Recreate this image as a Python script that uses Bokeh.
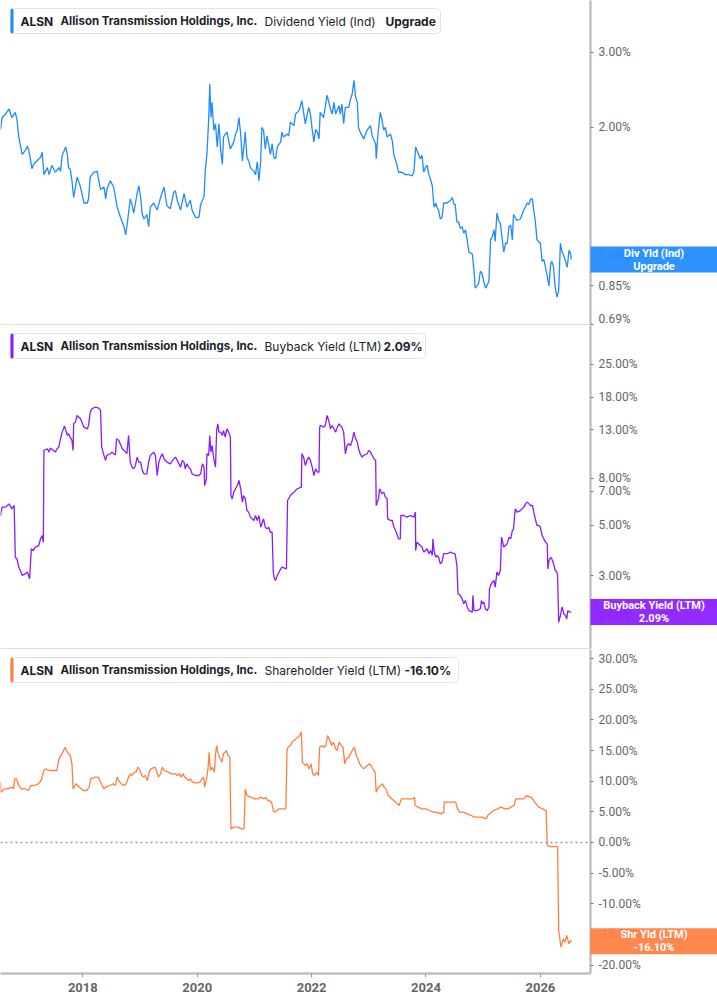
import math
from bokeh.plotting import figure
from bokeh.models import (Range1d, FixedTicker, PrintfTickFormatter, BoxAnnotation, Label,
                          Span, GridBox)
from bokeh.embed import file_html
from bokeh.resources import INLINE

TICKER = "ALSN"
COMPANY = "Allison Transmission Holdings, Inc."

# ---------------- data (decimal years, percent values) ----------------
div_dates = [
    2016.56, 2016.59, 2016.65, 2016.71, 2016.76, 2016.82, 2016.85, 2016.88, 2016.94, 2017.00,
    2017.03, 2017.06, 2017.08, 2017.11, 2017.14, 2017.20, 2017.26, 2017.29, 2017.32, 2017.38,
    2017.41, 2017.46, 2017.52, 2017.58, 2017.61, 2017.64, 2017.70, 2017.73, 2017.75, 2017.78,
    2017.81, 2017.84, 2017.90, 2017.96, 2018.02, 2018.08, 2018.10, 2018.13, 2018.19, 2018.25,
    2018.28, 2018.31, 2018.37, 2018.40, 2018.42, 2018.48, 2018.54, 2018.60, 2018.66, 2018.72,
    2018.75, 2018.77, 2018.83, 2018.86, 2018.89, 2018.95, 2018.98, 2019.01, 2019.04, 2019.07,
    2019.12, 2019.15, 2019.18, 2019.24, 2019.30, 2019.36, 2019.42, 2019.47, 2019.53, 2019.59,
    2019.62, 2019.65, 2019.71, 2019.77, 2019.82, 2019.88, 2019.91, 2019.97, 2020.03, 2020.06,
    2020.12, 2020.14, 2020.17, 2020.20, 2020.22, 2020.24, 2020.26, 2020.29, 2020.32, 2020.35,
    2020.38, 2020.41, 2020.44, 2020.46, 2020.52, 2020.58, 2020.64, 2020.67, 2020.70, 2020.73,
    2020.76, 2020.79, 2020.81, 2020.84, 2020.87, 2020.90, 2020.93, 2020.99, 2021.02, 2021.05,
    2021.08, 2021.11, 2021.13, 2021.16, 2021.19, 2021.22, 2021.28, 2021.31, 2021.34, 2021.37,
    2021.40, 2021.46, 2021.48, 2021.51, 2021.57, 2021.60, 2021.63, 2021.69, 2021.72, 2021.78,
    2021.83, 2021.86, 2021.89, 2021.95, 2021.98, 2022.01, 2022.04, 2022.07, 2022.10, 2022.13,
    2022.15, 2022.21, 2022.27, 2022.33, 2022.36, 2022.39, 2022.42, 2022.48, 2022.50, 2022.53,
    2022.56, 2022.59, 2022.65, 2022.68, 2022.71, 2022.74, 2022.77, 2022.80, 2022.82, 2022.85,
    2022.91, 2022.97, 2023.03, 2023.06, 2023.12, 2023.13, 2023.16, 2023.20, 2023.23, 2023.26,
    2023.29, 2023.32, 2023.38, 2023.41, 2023.44, 2023.49, 2023.52, 2023.58, 2023.64, 2023.70,
    2023.76, 2023.79, 2023.82, 2023.84, 2023.90, 2023.93, 2023.96, 2023.99, 2024.02, 2024.05,
    2024.08, 2024.11, 2024.14, 2024.17, 2024.19, 2024.22, 2024.25, 2024.28, 2024.31, 2024.37,
    2024.43, 2024.46, 2024.49, 2024.51, 2024.54, 2024.57, 2024.60, 2024.63, 2024.66, 2024.69,
    2024.72, 2024.75, 2024.81, 2024.84, 2024.86, 2024.89, 2024.92, 2024.95, 2024.98, 2025.01,
    2025.04, 2025.10, 2025.13, 2025.16, 2025.19, 2025.21, 2025.24, 2025.27, 2025.30, 2025.33,
    2025.36, 2025.39, 2025.42, 2025.45, 2025.48, 2025.51, 2025.53, 2025.59, 2025.65, 2025.71,
    2025.77, 2025.80, 2025.83, 2025.86, 2025.88, 2025.91, 2025.94, 2026.00, 2026.03, 2026.06,
    2026.09, 2026.15, 2026.18, 2026.20, 2026.23, 2026.26, 2026.29, 2026.32, 2026.35, 2026.38,
    2026.41, 2026.44, 2026.47, 2026.50, 2026.53, 2026.54,
]
div_yield = [
    1.98, 2.11, 2.15, 2.21, 2.11, 2.17, 2.08, 1.90, 1.73, 1.77,
    1.81, 1.75, 1.70, 1.60, 1.64, 1.67, 1.70, 1.75, 1.55, 1.61,
    1.55, 1.63, 1.57, 1.61, 1.58, 1.72, 1.80, 1.73, 1.61, 1.60,
    1.50, 1.37, 1.53, 1.45, 1.33, 1.33, 1.36, 1.53, 1.57, 1.58,
    1.50, 1.43, 1.45, 1.36, 1.43, 1.50, 1.45, 1.30, 1.23, 1.17,
    1.12, 1.17, 1.36, 1.32, 1.26, 1.40, 1.46, 1.37, 1.25, 1.22,
    1.25, 1.17, 1.30, 1.33, 1.28, 1.37, 1.45, 1.31, 1.29, 1.41,
    1.42, 1.35, 1.28, 1.40, 1.30, 1.35, 1.28, 1.23, 1.23, 1.32,
    1.38, 1.58, 1.73, 2.08, 2.53, 2.11, 2.29, 1.97, 2.04, 1.80,
    2.04, 1.77, 1.64, 1.90, 1.95, 1.78, 1.85, 1.93, 1.97, 2.11,
    1.93, 1.67, 1.77, 1.95, 1.70, 1.67, 1.61, 1.58, 1.55, 1.66,
    1.50, 1.67, 2.00, 1.97, 1.78, 1.91, 1.73, 1.83, 1.70, 1.69,
    1.80, 1.85, 1.95, 1.90, 1.93, 1.91, 2.06, 2.02, 2.15, 2.19,
    2.31, 2.17, 2.04, 2.23, 2.15, 1.98, 1.85, 1.98, 1.95, 1.88,
    2.17, 2.11, 2.38, 2.21, 2.15, 2.29, 2.15, 2.25, 2.15, 2.27,
    2.04, 2.23, 2.23, 2.33, 2.40, 2.58, 2.35, 2.29, 2.00, 1.95,
    1.88, 1.97, 2.02, 1.91, 1.83, 1.69, 1.93, 2.17, 2.09, 1.97,
    2.00, 1.90, 1.93, 1.86, 1.72, 1.64, 1.57, 1.57, 1.55, 1.55,
    1.54, 1.58, 1.80, 1.77, 1.69, 1.72, 1.57, 1.61, 1.63, 1.55,
    1.51, 1.46, 1.30, 1.33, 1.30, 1.28, 1.22, 1.23, 1.33, 1.33,
    1.35, 1.37, 1.32, 1.32, 1.20, 1.20, 1.16, 1.17, 1.13, 1.15,
    1.09, 1.02, 1.01, 0.92, 0.84, 0.85, 0.86, 0.92, 0.91, 0.87,
    0.84, 0.87, 1.09, 1.11, 1.15, 1.08, 1.26, 1.21, 1.19, 1.10,
    1.02, 1.07, 1.07, 1.17, 1.18, 1.09, 1.25, 1.21, 1.22, 1.28,
    1.33, 1.32, 1.36, 1.36, 1.29, 1.21, 1.09, 1.07, 0.97, 0.98,
    0.94, 0.85, 0.96, 0.97, 0.94, 0.84, 0.80, 0.83, 1.07, 1.02,
    1.00, 0.97, 0.94, 1.03, 1.01, 0.98,
]

bb_dates = [
    2016.56, 2016.59, 2016.65, 2016.71, 2016.76, 2016.80, 2016.82, 2016.85, 2016.88, 2016.94,
    2017.00, 2017.03, 2017.07, 2017.10, 2017.13, 2017.17, 2017.23, 2017.26, 2017.29, 2017.31,
    2017.32, 2017.38, 2017.41, 2017.43, 2017.49, 2017.52, 2017.55, 2017.58, 2017.61, 2017.64,
    2017.68, 2017.73, 2017.75, 2017.78, 2017.81, 2017.83, 2017.84, 2017.87, 2017.90, 2017.96,
    2018.02, 2018.08, 2018.10, 2018.13, 2018.16, 2018.22, 2018.28, 2018.31, 2018.33, 2018.37,
    2018.40, 2018.42, 2018.48, 2018.51, 2018.54, 2018.57, 2018.59, 2018.63, 2018.69, 2018.75,
    2018.77, 2018.80, 2018.83, 2018.86, 2018.89, 2018.92, 2018.95, 2018.98, 2019.01, 2019.04,
    2019.07, 2019.12, 2019.15, 2019.18, 2019.24, 2019.27, 2019.30, 2019.33, 2019.36, 2019.39,
    2019.42, 2019.47, 2019.53, 2019.59, 2019.62, 2019.65, 2019.71, 2019.74, 2019.77, 2019.79,
    2019.82, 2019.85, 2019.88, 2019.91, 2019.97, 2020.03, 2020.06, 2020.09, 2020.12, 2020.13,
    2020.16, 2020.17, 2020.20, 2020.22, 2020.24, 2020.26, 2020.29, 2020.32, 2020.34, 2020.36,
    2020.38, 2020.41, 2020.44, 2020.46, 2020.49, 2020.52, 2020.55, 2020.58, 2020.59, 2020.61,
    2020.64, 2020.67, 2020.70, 2020.73, 2020.76, 2020.79, 2020.81, 2020.84, 2020.87, 2020.90,
    2020.93, 2020.99, 2021.02, 2021.05, 2021.08, 2021.11, 2021.16, 2021.19, 2021.22, 2021.25,
    2021.28, 2021.31, 2021.33, 2021.35, 2021.37, 2021.40, 2021.46, 2021.48, 2021.56, 2021.58,
    2021.63, 2021.69, 2021.75, 2021.82, 2021.83, 2021.86, 2021.89, 2021.92, 2021.95, 2021.98,
    2022.01, 2022.04, 2022.07, 2022.10, 2022.13, 2022.14, 2022.15, 2022.21, 2022.24, 2022.27,
    2022.30, 2022.33, 2022.36, 2022.39, 2022.42, 2022.45, 2022.48, 2022.50, 2022.53, 2022.56,
    2022.59, 2022.62, 2022.65, 2022.68, 2022.71, 2022.74, 2022.77, 2022.80, 2022.82, 2022.85,
    2022.88, 2022.91, 2022.97, 2023.00, 2023.03, 2023.06, 2023.09, 2023.12, 2023.13, 2023.15,
    2023.17, 2023.19, 2023.23, 2023.26, 2023.29, 2023.32, 2023.33, 2023.38, 2023.41, 2023.44,
    2023.47, 2023.52, 2023.55, 2023.56, 2023.61, 2023.67, 2023.73, 2023.79, 2023.815, 2023.82,
    2023.84, 2023.90, 2023.93, 2023.96, 2023.99, 2024.02, 2024.05, 2024.08, 2024.11, 2024.12,
    2024.14, 2024.17, 2024.19, 2024.22, 2024.25, 2024.28, 2024.31, 2024.37, 2024.43, 2024.49,
    2024.51, 2024.54, 2024.56, 2024.60, 2024.63, 2024.66, 2024.69, 2024.72, 2024.75, 2024.81,
    2024.82, 2024.84, 2024.89, 2024.95, 2024.97, 2024.99, 2025.01, 2025.04, 2025.07, 2025.10,
    2025.11, 2025.13, 2025.16, 2025.19, 2025.21, 2025.24, 2025.27, 2025.30, 2025.32, 2025.36,
    2025.42, 2025.45, 2025.48, 2025.51, 2025.53, 2025.56, 2025.59, 2025.65, 2025.71, 2025.74,
    2025.77, 2025.83, 2025.86, 2025.88, 2025.91, 2025.94, 2025.97, 2026.00, 2026.03, 2026.06,
    2026.09, 2026.12, 2026.13, 2026.15, 2026.18, 2026.20, 2026.23, 2026.26, 2026.29, 2026.30,
    2026.32, 2026.35, 2026.38, 2026.41, 2026.44, 2026.46, 2026.48, 2026.51, 2026.54,
]
bb_yield = [
    5.50, 5.98, 5.98, 6.18, 5.88, 6.08, 3.62, 3.56, 3.28, 3.02,
    3.07, 3.12, 2.92, 3.94, 3.87, 4.01, 4.07, 4.35, 4.50, 4.21,
    10.55, 10.73, 10.38, 10.80, 10.55, 10.38, 10.73, 10.91, 11.86, 12.68,
    13.47, 12.26, 12.47, 12.06, 11.66, 10.55, 13.78, 14.02, 14.98, 14.49,
    13.33, 13.11, 13.56, 15.49, 16.02, 16.29, 16.13, 15.76, 10.91, 10.04,
    9.55, 10.04, 10.21, 10.38, 10.21, 10.10, 11.86, 11.66, 10.73, 10.38,
    10.21, 12.26, 9.39, 8.93, 8.78, 9.08, 9.87, 9.39, 9.39, 8.64,
    8.35, 8.35, 9.39, 10.04, 10.38, 10.04, 8.21, 9.39, 9.87, 10.21,
    9.71, 9.39, 9.23, 9.71, 9.87, 9.55, 8.93, 9.55, 9.39, 8.78,
    9.23, 8.93, 8.78, 8.35, 8.21, 8.21, 8.35, 9.23, 8.93, 7.43,
    7.94, 10.21, 10.04, 12.26, 10.38, 11.09, 9.71, 8.93, 12.89, 13.78,
    12.68, 12.68, 12.26, 12.89, 12.06, 13.11, 12.68, 12.06, 6.72, 6.50,
    6.95, 7.19, 7.43, 7.81, 7.19, 6.29, 6.72, 6.50, 5.78, 5.69,
    5.41, 5.23, 5.50, 5.23, 5.50, 4.89, 5.32, 4.89, 4.81, 4.89,
    4.65, 4.65, 3.12, 2.92, 2.87, 3.02, 3.22, 3.28, 3.22, 6.39,
    6.72, 6.95, 7.19, 7.31, 10.21, 9.87, 9.08, 9.55, 9.87, 9.55,
    8.93, 8.21, 8.78, 8.49, 8.49, 13.11, 13.56, 13.33, 13.56, 14.98,
    14.25, 13.11, 13.56, 13.11, 12.68, 13.33, 13.78, 13.56, 13.33, 12.68,
    10.21, 11.09, 11.28, 11.09, 11.66, 12.68, 11.86, 11.47, 10.73, 10.21,
    9.87, 10.04, 10.21, 10.55, 10.38, 10.04, 9.71, 9.55, 6.08, 6.29,
    6.50, 7.19, 6.84, 6.95, 6.61, 6.50, 5.32, 5.23, 5.23, 4.89,
    4.73, 4.35, 4.35, 5.50, 5.50, 5.41, 5.50, 5.41, 5.69, 3.87,
    4.21, 4.07, 4.01, 3.81, 3.87, 3.94, 3.75, 3.87, 3.69, 4.35,
    3.87, 3.62, 3.69, 3.62, 3.39, 3.45, 3.75, 3.75, 3.81, 3.75,
    3.75, 3.33, 2.51, 2.47, 2.39, 2.27, 2.35, 2.20, 2.12, 2.09,
    2.47, 2.12, 2.12, 2.16, 2.35, 2.27, 2.31, 2.16, 2.12, 2.20,
    2.64, 2.73, 2.82, 2.87, 2.68, 3.12, 3.02, 3.17, 4.43, 4.01,
    4.14, 4.43, 4.35, 4.73, 4.81, 5.88, 5.69, 5.78, 5.98, 6.18,
    6.29, 6.08, 6.08, 5.78, 5.32, 4.98, 4.98, 4.89, 4.50, 4.35,
    4.21, 4.14, 3.22, 3.50, 3.62, 3.56, 3.39, 3.17, 3.12, 3.02,
    1.89, 2.02, 2.20, 2.05, 2.02, 1.95, 2.12, 2.09, 2.09,
]

sh_dates = [
    2016.56, 2016.57, 2016.63, 2016.69, 2016.76, 2016.79, 2016.81, 2016.84, 2016.88, 2016.92,
    2016.99, 2017.05, 2017.09, 2017.15, 2017.22, 2017.25, 2017.28, 2017.32, 2017.35, 2017.42,
    2017.48, 2017.55, 2017.58, 2017.65, 2017.69, 2017.73, 2017.78, 2017.81, 2017.83, 2017.88,
    2017.94, 2018.01, 2018.07, 2018.11, 2018.14, 2018.21, 2018.27, 2018.30, 2018.34, 2018.37,
    2018.40, 2018.47, 2018.53, 2018.57, 2018.60, 2018.63, 2018.67, 2018.73, 2018.76, 2018.80,
    2018.83, 2018.86, 2018.90, 2018.93, 2018.96, 2018.99, 2019.03, 2019.06, 2019.09, 2019.13,
    2019.16, 2019.19, 2019.26, 2019.29, 2019.32, 2019.36, 2019.39, 2019.42, 2019.49, 2019.55,
    2019.62, 2019.65, 2019.69, 2019.72, 2019.75, 2019.78, 2019.82, 2019.85, 2019.88, 2019.92,
    2019.98, 2020.05, 2020.08, 2020.11, 2020.13, 2020.17, 2020.19, 2020.21, 2020.23, 2020.26,
    2020.30, 2020.32, 2020.34, 2020.36, 2020.39, 2020.43, 2020.46, 2020.49, 2020.51, 2020.54,
    2020.57, 2020.59, 2020.64, 2020.71, 2020.77, 2020.82, 2020.84, 2020.87, 2020.94, 2021.00,
    2021.07, 2021.10, 2021.17, 2021.20, 2021.23, 2021.26, 2021.30, 2021.33, 2021.36, 2021.43,
    2021.50, 2021.55, 2021.57, 2021.59, 2021.63, 2021.66, 2021.69, 2021.73, 2021.76, 2021.79,
    2021.82, 2021.84, 2021.89, 2021.92, 2021.96, 2021.99, 2022.02, 2022.05, 2022.09, 2022.12,
    2022.14, 2022.19, 2022.22, 2022.25, 2022.28, 2022.32, 2022.35, 2022.38, 2022.42, 2022.45,
    2022.48, 2022.52, 2022.55, 2022.58, 2022.61, 2022.65, 2022.68, 2022.71, 2022.75, 2022.78,
    2022.81, 2022.84, 2022.88, 2022.91, 2022.94, 2023.01, 2023.04, 2023.07, 2023.11, 2023.13,
    2023.17, 2023.21, 2023.24, 2023.27, 2023.30, 2023.34, 2023.40, 2023.47, 2023.53, 2023.57,
    2023.67, 2023.77, 2023.80, 2023.81, 2023.86, 2023.93, 2024.00, 2024.06, 2024.13, 2024.19,
    2024.26, 2024.31, 2024.32, 2024.39, 2024.46, 2024.52, 2024.55, 2024.59, 2024.65, 2024.72,
    2024.79, 2024.85, 2024.92, 2024.98, 2025.05, 2025.08, 2025.11, 2025.18, 2025.25, 2025.31,
    2025.38, 2025.44, 2025.48, 2025.54, 2025.57, 2025.64, 2025.71, 2025.77, 2025.81, 2025.84,
    2025.90, 2025.97, 2026.04, 2026.10, 2026.12, 2026.17, 2026.23, 2026.30, 2026.32, 2026.36,
    2026.40, 2026.43, 2026.46, 2026.50, 2026.53, 2026.55,
]
sh_yield = [
    9.84, 8.21, 8.75, 8.75, 9.02, 8.75, 10.38, 10.38, 9.30, 8.75,
    8.75, 8.48, 9.30, 9.30, 9.57, 9.84, 10.38, 11.74, 12.01, 11.74,
    11.74, 11.74, 13.65, 14.73, 15.55, 14.73, 14.19, 12.83, 8.75, 9.57,
    9.02, 8.48, 8.48, 9.02, 10.38, 10.66, 10.66, 10.11, 9.30, 8.75,
    9.02, 9.30, 9.57, 9.30, 10.66, 10.11, 9.57, 9.30, 9.57, 10.66,
    11.20, 10.93, 11.47, 11.47, 12.29, 12.01, 10.93, 10.66, 10.93, 10.11,
    11.47, 12.01, 12.29, 11.74, 10.66, 11.20, 12.29, 11.74, 11.47, 11.20,
    11.20, 10.93, 11.20, 10.66, 11.20, 10.66, 10.38, 10.11, 10.38, 9.84,
    9.68, 9.84, 10.38, 10.66, 9.02, 10.66, 12.29, 14.73, 11.74, 12.29,
    11.47, 14.46, 15.82, 14.73, 13.92, 13.10, 14.46, 14.73, 15.01, 14.19,
    13.92, 2.23, 2.50, 2.50, 2.23, 2.23, 8.75, 7.66, 7.39, 7.12,
    7.12, 7.39, 7.12, 7.39, 6.85, 6.85, 6.58, 5.22, 4.95, 5.49,
    5.49, 5.49, 15.01, 15.55, 15.82, 16.37, 16.64, 16.91, 17.18, 17.45,
    18.00, 13.10, 12.56, 12.83, 12.01, 12.83, 11.20, 10.93, 11.47, 10.93,
    15.55, 15.82, 15.55, 15.82, 17.45, 16.64, 15.82, 16.37, 15.28, 15.01,
    16.37, 15.82, 15.55, 12.83, 13.65, 13.92, 14.46, 15.01, 15.55, 14.19,
    13.65, 12.83, 12.29, 12.01, 12.29, 12.83, 12.56, 12.01, 11.47, 8.21,
    9.02, 9.30, 9.57, 9.02, 8.75, 7.66, 7.12, 6.58, 6.03, 7.12,
    7.12, 7.12, 7.39, 6.03, 5.76, 5.49, 5.49, 5.22, 4.95, 4.95,
    4.67, 4.95, 6.58, 6.58, 6.58, 6.58, 5.49, 4.95, 4.95, 4.67,
    4.40, 4.13, 4.13, 4.13, 3.86, 4.40, 4.67, 5.22, 5.49, 5.76,
    5.49, 5.49, 5.76, 6.03, 7.12, 7.12, 7.12, 7.66, 7.39, 7.39,
    6.58, 5.76, 5.49, 5.22, -0.49, -0.66, -0.66, -0.66, -14.36, -17.08,
    -15.72, -16.26, -15.17, -16.53, -15.99, -16.10,
]

div_ticks = [0.69, 0.85, 1.00, 2.00, 3.00]
bb_ticks = [2, 3, 5, 7, 8, 13, 18, 25]
sh_ticks = [-20, -15, -10, -5, 0, 5, 10, 15, 20, 25, 30]
year_ticks = [2018, 2020, 2022, 2024, 2026]

# ---------------- layout constants ----------------
X0, X1 = 2016.561, 2026.876
FW = 590
CW = 717
XE = X0 + CW / FW * (X1 - X0)   # data x at the right canvas edge
TEXT_DARK = "#1d1d2b"
BLUE = "#1f8bff"
PURPLE = "#8a1bff"
ORANGE = "#ff7f41"


def x_at(px):
    return X0 + px / FW * (X1 - X0)


def converters(lo, hi, fh, is_log):
    def y_at(py):
        if is_log:
            return math.exp(math.log(hi) - py / fh * (math.log(hi) - math.log(lo)))
        return hi - py / fh * (hi - lo)

    def py_of(v):
        if is_log:
            return (math.log(hi) - math.log(v)) / (math.log(hi) - math.log(lo)) * fh
        return (hi - v) / (hi - lo) * fh
    return y_at, py_of


def make_panel(dates, vals, color, lo, hi, fh, is_log, ticks, series, value_txt,
               value_x, box_right, bottom, show_x):
    p = figure(frame_width=FW, frame_height=fh,
               x_range=Range1d(X0, X1), y_range=Range1d(lo, hi),
               y_axis_type="log" if is_log else "linear", y_axis_location="right",
               output_backend="svg", toolbar_location=None,
               min_border_left=0, min_border_right=CW - FW, min_border_top=0,
               min_border_bottom=bottom, background_fill_color="white",
               border_fill_color="white", outline_line_color=None)
    y_at, py_of = converters(lo, hi, fh, is_log)
    p.grid.visible = False

    if not is_log:
        p.add_layout(Span(location=0, dimension="width", line_color="#9a9a9a",
                          line_width=1.5, line_dash="2 3"))

    p.line(dates, vals, line_color=color, line_width=1.3)

    ya = p.yaxis[0]
    ya.ticker = FixedTicker(ticks=ticks)
    ya.formatter = PrintfTickFormatter(format="%.2f%%")
    ya.axis_line_color = "#b4b4b4"
    ya.axis_line_width = 2
    ya.major_tick_out = 3
    ya.major_tick_in = 0
    ya.major_tick_line_color = "#777777"
    ya.minor_tick_line_color = None
    ya.major_label_text_font = "Roboto"
    ya.major_label_text_font_size = "12px"
    ya.major_label_text_color = "#666666"
    ya.major_label_standoff = 5

    xa = p.xaxis[0]
    if show_x:
        xa.ticker = FixedTicker(ticks=year_ticks)
        xa.formatter = PrintfTickFormatter(format="%d")
        xa.axis_line_color = "#b4b4b4"
        xa.axis_line_width = 2
        xa.major_tick_out = 4
        xa.major_tick_in = 0
        xa.major_tick_line_color = "#999999"
        xa.minor_tick_line_color = None
        xa.major_label_text_font = "Roboto"
        xa.major_label_text_font_size = "13px"
        xa.major_label_text_font_style = "bold"
        xa.major_label_text_color = "#666666"
        xa.major_label_standoff = 5
    else:
        xa.visible = False
        p.add_layout(Span(location=lo, dimension="width", line_color="#bdbdbd", line_width=1))

    # legend box (top-left)
    p.add_layout(BoxAnnotation(left=x_at(10), right=x_at(box_right), top=y_at(8), bottom=y_at(33),
                               fill_color="white", fill_alpha=1, line_color="#e3e3e3",
                               line_alpha=1, line_width=1, border_radius=4))
    p.add_layout(BoxAnnotation(left=x_at(10), right=x_at(13), top=y_at(8), bottom=y_at(33),
                               fill_color=color, fill_alpha=1, line_color=None, border_radius=2))
    parts = [(TICKER, 20, "bold", "12px"), (COMPANY, 60, "bold", "11.5px"),
             (series, 264, "normal", "12px"), (value_txt, value_x, "bold", "12px")]
    for txt, px, style, size in parts:
        p.add_layout(Label(x=x_at(px), y=y_at(20.5), text=txt, text_font="Inter",
                           text_font_size=size, text_font_style=style,
                           text_color=TEXT_DARK, text_align="left", text_baseline="middle"))
    return p


def make_tag(color, lo, hi, fh, is_log, last, tag_text, bottom):
    """Transparent overlay figure that spans the full width, carrying the last-value tag."""
    t = figure(frame_width=CW, frame_height=fh,
               x_range=Range1d(X0, XE), y_range=Range1d(lo, hi),
               y_axis_type="log" if is_log else "linear",
               x_axis_location=None, y_axis_location=None,
               output_backend="svg", toolbar_location=None,
               min_border_left=0, min_border_right=0, min_border_top=0,
               min_border_bottom=bottom, background_fill_alpha=0,
               border_fill_alpha=0, outline_line_color=None)
    t.grid.visible = False
    y_at, py_of = converters(lo, hi, fh, is_log)
    cy = py_of(last)
    t.add_layout(BoxAnnotation(left=X1, right=XE, top=y_at(cy - 13), bottom=y_at(cy + 13),
                               fill_color=color, fill_alpha=0.93, line_color=None))
    t.add_layout(Label(x=x_at(653.5), y=last, text=tag_text, text_font="Roboto",
                       text_font_size="11px", text_font_style="bold", text_color="white",
                       text_align="center", text_baseline="middle", text_line_height=1.0))
    return t


DIV = (0.69, 3.97, 324, True)
BB = (1.451, 36.9, 323, True)
SH = (-21.37, 31.48, 324, False)

p1 = make_panel(div_dates, div_yield, BLUE, *DIV, div_ticks,
                "Dividend Yield (Ind)", "Upgrade", 385, 440, 1, False)
t1 = make_tag(BLUE, *DIV, div_yield[-1], "Div Yld (Ind)\nUpgrade", 1)
p2 = make_panel(bb_dates, bb_yield, PURPLE, *BB, bb_ticks,
                "Buyback Yield (LTM)", "2.09%", 383, 425, 1, False)
t2 = make_tag(PURPLE, *BB, bb_yield[-1], "Buyback Yield (LTM)\n2.09%", 1)
p3 = make_panel(sh_dates, sh_yield, ORANGE, *SH, sh_ticks,
                "Shareholder Yield (LTM)", "-16.10%", 404, 458, 32, True)
t3 = make_tag(ORANGE, *SH, sh_yield[-1], "Shr Yld (LTM)\n-16.10%", 32)

layout = GridBox(children=[(p1, 0, 0), (t1, 0, 0), (p2, 1, 0), (t2, 1, 0),
                           (p3, 2, 0), (t3, 2, 0)], spacing=0)
open("out.html", "w").write(file_html(layout, INLINE))
